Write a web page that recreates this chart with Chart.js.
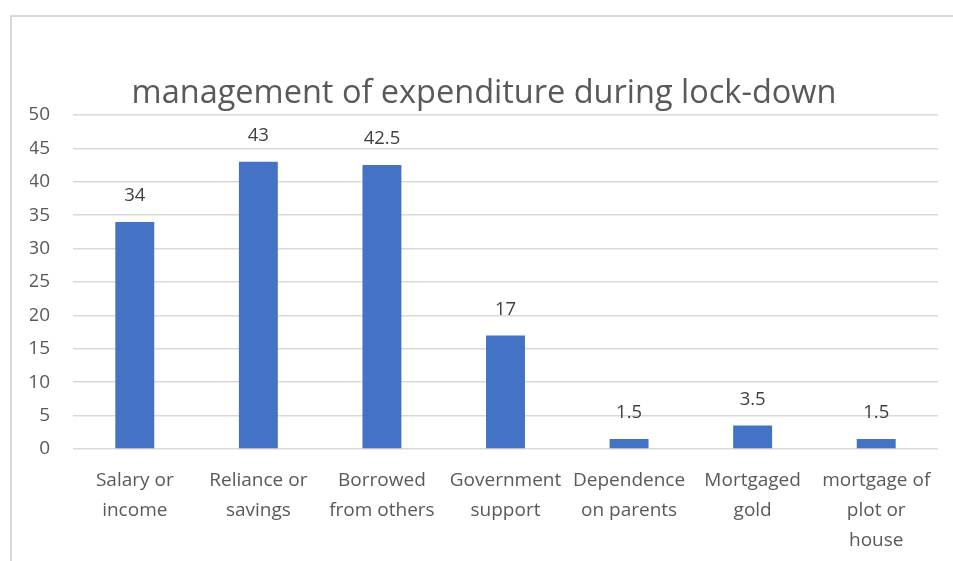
<!DOCTYPE html>
<html lang="en">
<head>
  <meta charset="UTF-8" />
  <title>management of expenditure during lock-down</title>
  <script src="https://cdn.jsdelivr.net/npm/chart.js"></script>
  <style>
    html, body {
      margin: 0;
      padding: 0;
      background: #fff;
      overflow: hidden;
    }
    .wrap {
      position: absolute;
      left: 0;
      top: 0;
      width: 953px;
      height: 561px;
    }
    .frame {
      position: absolute;
      left: 10px;
      top: 15px;
      width: 2000px;
      height: 2000px;
      border: 2px solid #d9d9d9;
      pointer-events: none;
    }
  </style>
</head>
<body>
  <div class="frame"></div>
  <div class="wrap">
    <canvas id="chart" width="953" height="561"></canvas>
  </div>

  <script>
    const categories = [
      ['Salary or', 'income'],
      ['Reliance or', 'savings'],
      ['Borrowed', 'from others'],
      ['Government', 'support'],
      ['Dependence', 'on parents'],
      ['Mortgaged', 'gold'],
      ['mortgage of', 'plot or', 'house']
    ];
    const values = [34, 43, 42.5, 17, 1.5, 3.5, 1.5];
    const yTicks = [0, 5, 10, 15, 20, 25, 30, 35, 40, 45, 50];

    const font = "'Open Sans', 'Noto Sans', sans-serif";

    // labels above each bar
    const valueLabels = {
      id: 'valueLabels',
      afterDatasetsDraw(chart) {
        const ctx = chart.ctx;
        const meta = chart.getDatasetMeta(0);
        ctx.save();
        ctx.font = '18.5px ' + font;
        ctx.fillStyle = '#404040';
        ctx.textAlign = 'center';
        ctx.textBaseline = 'middle';
        meta.data.forEach((bar, i) => {
          ctx.fillText(String(values[i]), bar.x, bar.y - 26);
        });
        ctx.restore();
      }
    };

    new Chart(document.getElementById('chart'), {
      type: 'bar',
      data: {
        labels: categories,
        datasets: [{
          data: values,
          backgroundColor: '#4472C4',
          barPercentage: 0.315,
          categoryPercentage: 1
        }]
      },
      options: {
        responsive: false,
        animation: false,
        layout: { padding: { left: 30, right: 15, top: 60, bottom: 0 } },
        plugins: {
          legend: { display: false },
          tooltip: { enabled: false },
          title: {
            display: true,
            text: 'management of expenditure during lock-down',
            color: '#595959',
            font: { family: font, size: 32.5, weight: 'normal' },
            padding: { top: 14, bottom: 2 }
          }
        },
        scales: {
          x: {
            grid: { display: false, drawTicks: false },
            border: { display: false },
            ticks: {
              color: '#595959',
              font: { family: font, size: 19, lineHeight: 1.57 },
              padding: 17,
              maxRotation: 0,
              autoSkip: false
            },
            afterFit(scale) { scale.height = 112; }
          },
          y: {
            min: 0,
            max: 50,
            afterBuildTicks(scale) {
              scale.ticks = yTicks.map(v => ({ value: v }));
            },
            grid: { color: '#d9d9d9', lineWidth: 1.5, drawTicks: false },
            border: { display: false },
            ticks: {
              color: '#595959',
              font: { family: font, size: 19 },
              padding: 23
            },
            afterFit(scale) { scale.width = 43; }
          }
        }
      },
      plugins: [valueLabels]
    });
  </script>
</body>
</html>
